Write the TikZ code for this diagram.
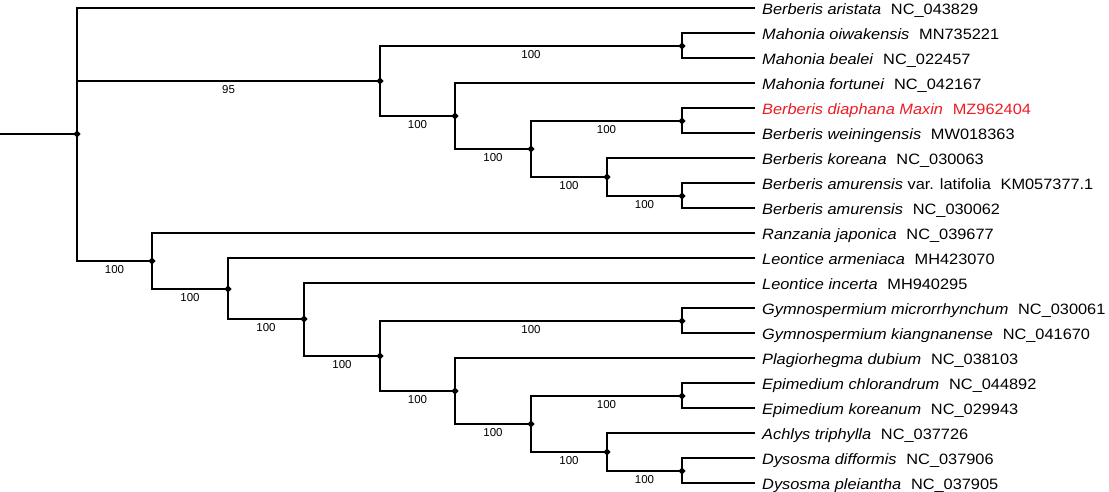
\documentclass[tikz,border=0pt]{standalone}
\usepackage{fontspec}
\setmainfont{Liberation Sans}
\newfontfamily\leaffont[FakeStretch=1.09]{Liberation Sans}
\usetikzlibrary{shapes.geometric}
\definecolor{hlred}{RGB}{235,28,36}
\begin{document}
\begin{tikzpicture}[x=1pt,y=-1pt,
  br/.style={draw=black, line width=1.8pt},
  dot/.style={diamond, fill=black, inner sep=0pt, minimum size=7.5pt},
  leaf/.style={anchor=base west, inner sep=0pt, xshift=7pt, yshift=-6.5pt, font=\leaffont\fontsize{15}{18}\selectfont},
  boot/.style={pos=0.75, below=3pt, inner sep=1pt, font=\fontsize{11.5}{13}\selectfont}]
\useasboundingbox (0,0) rectangle (1109,492);
% leaf tips
\foreach \i in {0,...,19} { \coordinate (t\i) at (755, 8+25*\i); }
% internal nodes
\node[dot] (root) at (77,134) {};
\coordinate (stem) at (0,134);
\node[dot] (nU)   at (380,81) {};
\node[dot] (nMah) at (682,46) {};
\node[dot] (nB1)  at (455,116) {};
\node[dot] (nB2)  at (531,149) {};
\node[dot] (nDia) at (682,121) {};
\node[dot] (nB3)  at (607,177) {};
\node[dot] (nAmu) at (682,196) {};
\node[dot] (nL)   at (152,261) {};
\node[dot] (nL2)  at (228,289) {};
\node[dot] (nL3)  at (304,319) {};
\node[dot] (nL4)  at (380,356) {};
\node[dot] (nGym) at (682,321) {};
\node[dot] (nL5)  at (455,391) {};
\node[dot] (nL6)  at (531,424) {};
\node[dot] (nEpi) at (682,396) {};
\node[dot] (nL7)  at (607,452) {};
\node[dot] (nDys) at (682,471) {};
% branches
\draw[br] (stem) -- (root.center);
\draw[br] (root.center) |- (t0);
\draw[br] (root.center) |- (nU.center) node[boot]{95};
\draw[br] (root.center) |- (nL.center) node[boot]{100};
\draw[br] (nU.center) |- (nMah.center) node[boot]{100};
\draw[br] (nU.center) |- (nB1.center) node[boot]{100};
\draw[br] (nMah.center) |- (t1);
\draw[br] (nMah.center) |- (t2);
\draw[br] (nB1.center) |- (t3);
\draw[br] (nB1.center) |- (nB2.center) node[boot]{100};
\draw[br] (nB2.center) |- (nDia.center) node[boot]{100};
\draw[br] (nB2.center) |- (nB3.center) node[boot]{100};
\draw[br] (nDia.center) |- (t4);
\draw[br] (nDia.center) |- (t5);
\draw[br] (nB3.center) |- (t6);
\draw[br] (nB3.center) |- (nAmu.center) node[boot]{100};
\draw[br] (nAmu.center) |- (t7);
\draw[br] (nAmu.center) |- (t8);
\draw[br] (nL.center) |- (t9);
\draw[br] (nL.center) |- (nL2.center) node[boot]{100};
\draw[br] (nL2.center) |- (t10);
\draw[br] (nL2.center) |- (nL3.center) node[boot]{100};
\draw[br] (nL3.center) |- (t11);
\draw[br] (nL3.center) |- (nL4.center) node[boot]{100};
\draw[br] (nL4.center) |- (nGym.center) node[boot]{100};
\draw[br] (nL4.center) |- (nL5.center) node[boot]{100};
\draw[br] (nGym.center) |- (t12);
\draw[br] (nGym.center) |- (t13);
\draw[br] (nL5.center) |- (t14);
\draw[br] (nL5.center) |- (nL6.center) node[boot]{100};
\draw[br] (nL6.center) |- (nEpi.center) node[boot]{100};
\draw[br] (nL6.center) |- (nL7.center) node[boot]{100};
\draw[br] (nEpi.center) |- (t15);
\draw[br] (nEpi.center) |- (t16);
\draw[br] (nL7.center) |- (t17);
\draw[br] (nL7.center) |- (nDys.center) node[boot]{100};
\draw[br] (nDys.center) |- (t18);
\draw[br] (nDys.center) |- (t19);
% leaf labels
\node[leaf] (l0) at (t0) {\textit{Berberis aristata}\hspace{0.65em}NC\_043829};
\node[leaf] (l1) at (t1) {\textit{Mahonia oiwakensis}\hspace{0.65em}MN735221};
\node[leaf] (l2) at (t2) {\textit{Mahonia bealei}\hspace{0.65em}NC\_022457};
\node[leaf] (l3) at (t3) {\textit{Mahonia fortunei}\hspace{0.65em}NC\_042167};
\node[leaf, text=hlred] (l4) at (t4) {\textit{Berberis diaphana Maxin}\hspace{0.65em}MZ962404};
\node[leaf] (l5) at (t5) {\textit{Berberis weiningensis}\hspace{0.65em}MW018363};
\node[leaf] (l6) at (t6) {\textit{Berberis koreana}\hspace{0.65em}NC\_030063};
\node[leaf] (l7) at (t7) {\textit{Berberis amurensis} var. latifolia\hspace{0.65em}KM057377.1};
\node[leaf] (l8) at (t8) {\textit{Berberis amurensis}\hspace{0.65em}NC\_030062};
\node[leaf] (l9) at (t9) {\textit{Ranzania japonica}\hspace{0.65em}NC\_039677};
\node[leaf] (l10) at (t10) {\textit{Leontice armeniaca}\hspace{0.65em}MH423070};
\node[leaf] (l11) at (t11) {\textit{Leontice incerta}\hspace{0.65em}MH940295};
\node[leaf] (l12) at (t12) {\textit{Gymnospermium microrrhynchum}\hspace{0.65em}NC\_030061};
\node[leaf] (l13) at (t13) {\textit{Gymnospermium kiangnanense}\hspace{0.65em}NC\_041670};
\node[leaf] (l14) at (t14) {\textit{Plagiorhegma dubium}\hspace{0.65em}NC\_038103};
\node[leaf] (l15) at (t15) {\textit{Epimedium chlorandrum}\hspace{0.65em}NC\_044892};
\node[leaf] (l16) at (t16) {\textit{Epimedium koreanum}\hspace{0.65em}NC\_029943};
\node[leaf] (l17) at (t17) {\textit{Achlys triphylla}\hspace{0.65em}NC\_037726};
\node[leaf] (l18) at (t18) {\textit{Dysosma difformis}\hspace{0.65em}NC\_037906};
\node[leaf] (l19) at (t19) {\textit{Dysosma pleiantha}\hspace{0.65em}NC\_037905};
\end{tikzpicture}
\end{document}
